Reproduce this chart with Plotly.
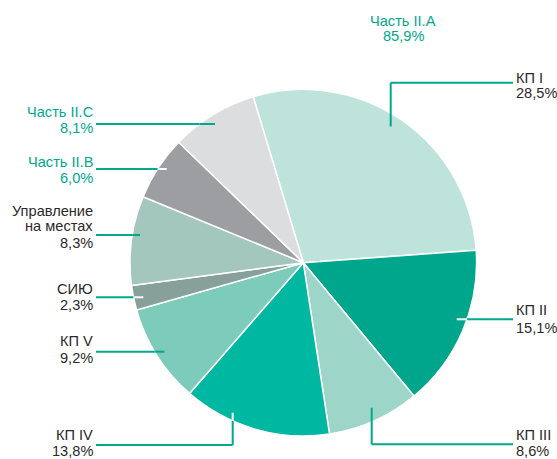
import math
import plotly.graph_objects as go

W, H = 557, 459

# ---- data ----
labels = ["КП I", "КП II", "КП III", "КП IV", "КП V", "СИЮ",
          "Управление на местах", "Часть II.B", "Часть II.C"]
values = [28.5, 15.1, 8.6, 13.8, 9.2, 2.3, 8.3, 6.0, 8.1]
value_text = ["28,5%", "15,1%", "8,6%", "13,8%", "9,2%", "2,3%", "8,3%", "6,0%", "8,1%"]
label_lines = [["КП I"], ["КП II"], ["КП III"], ["КП IV"], ["КП V"], ["СИЮ"],
               ["Управление", "на местах"], ["Часть II.B"], ["Часть II.C"]]
group_label = "Часть II.A"
group_value = "85,9%"

colors = ["#bde3da", "#00a68b", "#9dd6c8", "#00b7a1", "#7dcbbb",
          "#87a09a", "#a3c6bd", "#9c9ea1", "#dcdddf"]
TEAL = "#00a88e"
DARK = "#2a2a2a"

# ---- geometry of the pie (pixels) ----
cx, cy, r = 303.3, 262.7, 173.3
FS = 14.6

def px(x):
    return x / W

def py(y):
    return 1 - y / H

fig = go.Figure(go.Pie(
    labels=labels, values=values, sort=False, direction="clockwise",
    rotation=-16.8, marker=dict(colors=colors, line=dict(color="white", width=1.5)),
    textinfo="none", hoverinfo="label+percent", showlegend=False,
    domain=dict(x=[px(cx - r), px(cx + r)], y=[py(cy + r), py(cy - r)]),
))

# label layout: (text color, x anchor side, x, baselines, leader points, inner line color)
label_layout = [
    (DARK, "left", 513.5, [83, 98.5], [(390.7, 126.5), (390.7, 82.7), (513, 82.7)], TEAL),
    (DARK, "left", 513.5, [315, 333], [(456.7, 319.3), (513, 319.3)], "white"),
    (DARK, "left", 513.5, [440.5, 456.5], [(371.7, 407.7), (371.7, 444.3), (513, 444.3)], TEAL),
    (DARK, "right", 94.5, [440, 456.5], [(232.7, 412.7), (232.7, 445), (96, 445)], "white"),
    (DARK, "right", 94.5, [346, 363], [(164.3, 351.7), (96, 351.7)], TEAL),
    (DARK, "right", 94.5, [294, 310], [(143.3, 297.3), (96, 297.3)], "white"),
    (DARK, "right", 94.5, [215.7, 231.5, 248.3], [(140, 235), (96, 235)], TEAL),
    (TEAL, "right", 94.5, [166.7, 182.7], [(166.7, 169), (96, 169)], "white"),
    (TEAL, "right", 94.5, [116.7, 133], [(215, 124), (96, 124)], TEAL),
]

shapes = []
annotations = []

def add_line(x0, y0, x1, y1, color):
    shapes.append(dict(type="line", xref="paper", yref="paper",
                       x0=px(x0), y0=py(y0), x1=px(x1), y1=py(y1),
                       line=dict(color=color, width=2)))

def circle_cross(p0, p1):
    # parameter t along p0->p1 where segment leaves the circle (p0 inside)
    (x0, y0), (x1, y1) = p0, p1
    dx, dy = x1 - x0, y1 - y0
    fx, fy = x0 - cx, y0 - cy
    a = dx * dx + dy * dy
    b = 2 * (fx * dx + fy * dy)
    c = fx * fx + fy * fy - r * r
    disc = b * b - 4 * a * c
    if disc < 0 or c > 0:
        return None
    t = (-b + math.sqrt(disc)) / (2 * a)
    return t if 0 <= t <= 1 else None

for i, (tcol, side, x, baselines, pts, inner) in enumerate(label_layout):
    texts = label_lines[i] + [value_text[i]]
    for t, b in zip(texts, baselines):
        annotations.append(dict(x=px(x), y=py(b - 0.35 * FS), xref="paper", yref="paper",
                                text=t, showarrow=False, xanchor=side, yanchor="middle",
                                font=dict(size=FS, color=tcol)))
    for p0, p1 in zip(pts[:-1], pts[1:]):
        t = circle_cross(p0, p1)
        if t is None:
            inside = (p0[0] - cx) ** 2 + (p0[1] - cy) ** 2 < r * r and \
                     (p1[0] - cx) ** 2 + (p1[1] - cy) ** 2 < r * r
            add_line(p0[0], p0[1], p1[0], p1[1], inner if inside else TEAL)
        else:
            mx = p0[0] + t * (p1[0] - p0[0])
            my = p0[1] + t * (p1[1] - p0[1])
            add_line(p0[0], p0[1], mx, my, inner)
            add_line(mx, my, p1[0], p1[1], TEAL)

for t, b in zip([group_label, group_value], [26.5, 41.5]):
    annotations.append(dict(x=px(403), y=py(b - 0.35 * FS), xref="paper", yref="paper",
                            text=t, showarrow=False, xanchor="center", yanchor="middle",
                            font=dict(size=FS, color=TEAL)))

fig.update_layout(
    width=W, height=H, margin=dict(l=0, r=0, t=0, b=0),
    paper_bgcolor="white", plot_bgcolor="white",
    font=dict(family="Liberation Sans, Arial, sans-serif", size=FS, color=DARK),
    shapes=shapes, annotations=annotations,
)

fig.write_html("out.html", config={"displayModeBar": False})

# remove the default page margin so the figure sits at the window's top-left corner
with open("out.html", encoding="utf-8") as f:
    html = f.read()
html = html.replace("<head>", "<head><style>html,body{margin:0;padding:0;overflow:hidden;}</style>", 1)
with open("out.html", "w", encoding="utf-8") as f:
    f.write(html)
